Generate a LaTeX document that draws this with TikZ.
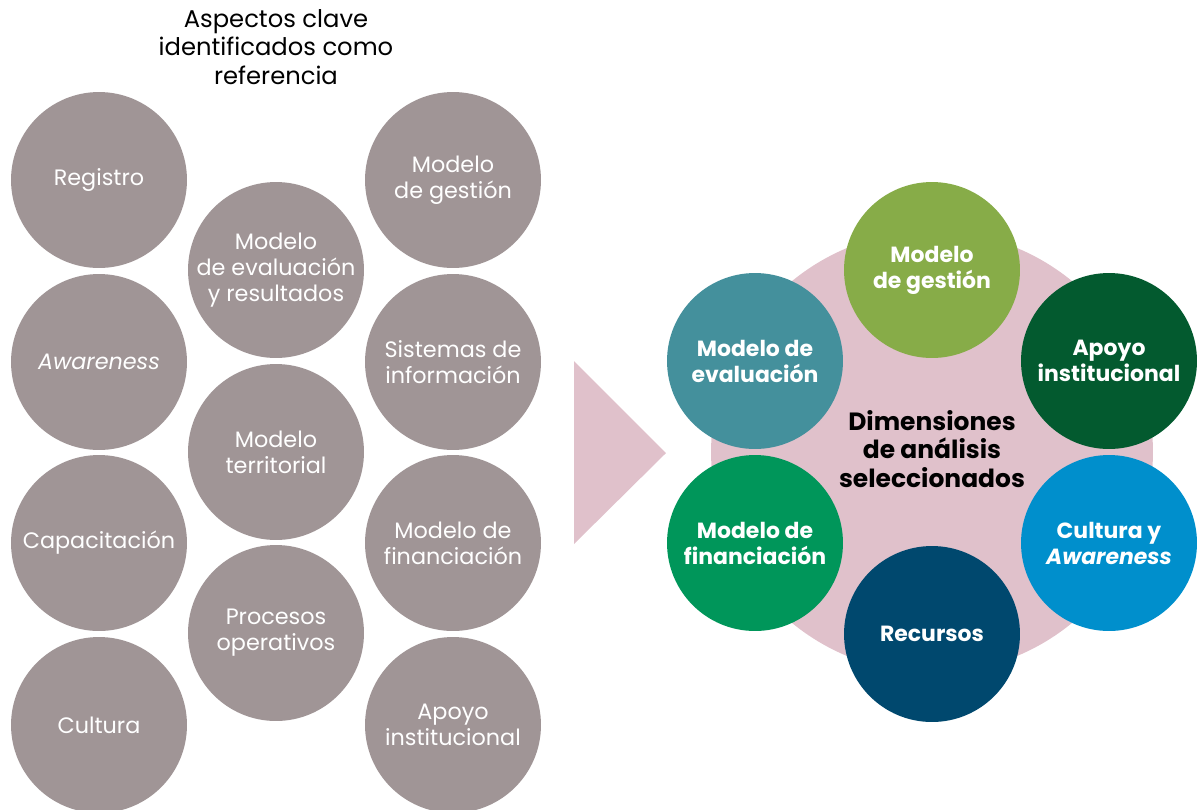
\documentclass[tikz,border=0pt]{standalone}
\usepackage{fontspec}
\setmainfont{Poppins}
\usetikzlibrary{positioning}
\definecolor{aspectgray}{HTML}{A09596}
\definecolor{hubpink}{HTML}{E0C1CB}
\definecolor{gestiongreen}{HTML}{87AC48}
\definecolor{apoyogreen}{HTML}{035A2F}
\definecolor{evalteal}{HTML}{44909C}
\definecolor{finangreen}{HTML}{00965A}
\definecolor{recnavy}{HTML}{00486E}
\definecolor{culturablue}{HTML}{008FCC}

\begin{document}
\begin{tikzpicture}[x=0.02cm, y=-0.02cm,
    aspect/.style={circle, fill=aspectgray, text=white, minimum size=3.52cm, inner sep=0pt,
      align=center, font=\fontsize{12.7}{14.8}\selectfont},
    dimension/.style={circle, minimum size=3.52cm, inner sep=0pt, text=white,
      align=center, font=\fontsize{12.5}{14.8}\selectfont\bfseries}]
      \useasboundingbox (0, 0) rectangle (1200, 809);
      \clip (0, 0) rectangle (1200, 809);

      % aspectos clave
      \node[align=center, font=\fontsize{13.8}{16.2}\selectfont] (titulo) at (276, 47)
        {Aspectos clave\\identificados como\\referencia};

      \node[aspect] (registro) at (99, 180) {Registro};
      \node[aspect] (awareness) at (99, 362) {\itshape Awareness};
      \node[aspect] (capacitacion) at (99, 543) {Capacitación};
      \node[aspect] (cultura) at (99, 725) {Cultura};

      \node[aspect] (evaluacion) at (276, 270) {Modelo\\de evaluación\\y resultados};
      \node[aspect] (territorial) at (276, 452) {Modelo\\territorial};
      \node[aspect] (procesos) at (276, 633) {Procesos\\operativos};

      \node[aspect] (gestion) at (453, 180) {Modelo\\de gestión};
      \node[aspect] (sistemas) at (453, 362) {Sistemas de\\información};
      \node[aspect] (financiacion) at (453, 543) {Modelo de\\financiación};
      \node[aspect] (apoyo) at (453, 725) {Apoyo\\institucional};

      % flecha
      \fill[hubpink] (574, 361) -- (666, 453) -- (574, 544) -- cycle;

      % dimensiones seleccionadas
      \node[circle, fill=hubpink, minimum size=8.84cm, inner sep=0pt] (hub) at (932, 452) {};
      \node[dimension, fill=gestiongreen] (dimgestion) at (932, 270) {Modelo\\de gestión};
      \node[dimension, fill=evalteal] (dimevaluacion) at (755, 361) {Modelo de\\evaluación};
      \node[dimension, fill=apoyogreen] (dimapoyo) at (1109, 361) {Apoyo\\institucional};
      \node[dimension, fill=finangreen] (dimfinanciacion) at (755, 543) {Modelo de\\financiación};
      \node[dimension, fill=culturablue] (dimcultura) at (1109, 543) {Cultura y\\\textit{Awareness}};
      \node[dimension, fill=recnavy] (dimrecursos) at (932, 634) {Recursos};
      \node[align=center, font=\fontsize{14.2}{16.2}\selectfont\bfseries] (hubtext) at (932, 449)
        {Dimensiones\\de análisis\\seleccionados};

    \end{tikzpicture}
\end{document}
